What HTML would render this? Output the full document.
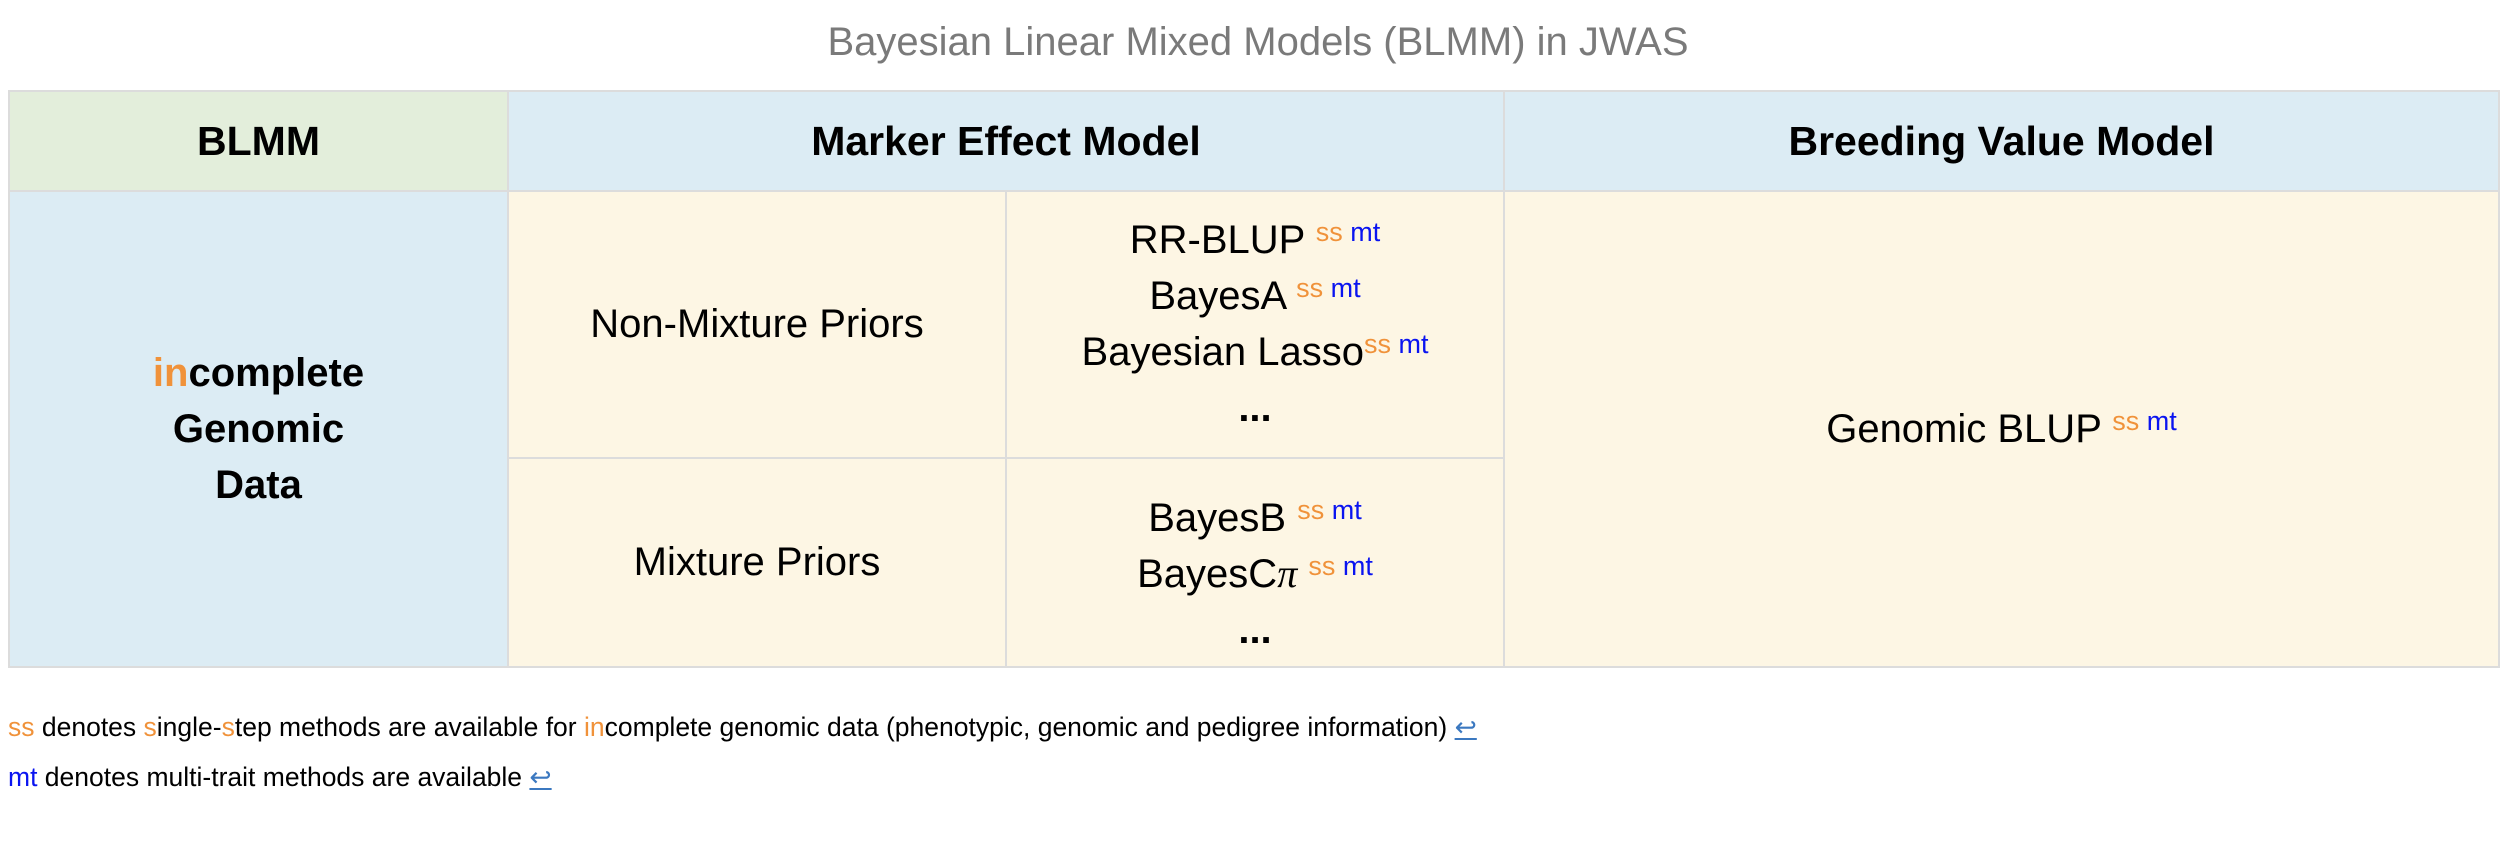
<!DOCTYPE html>
<html><head><meta charset="utf-8"><style>
body{margin:0;width:2516px;height:844px;background:#fff;font-family:"Liberation Sans",Arial,sans-serif;position:relative;overflow:hidden}
.c{position:absolute;box-sizing:border-box;border:2px solid #dcdcdc;display:flex;flex-direction:column;align-items:center;justify-content:center;text-align:center;font-size:40px;color:#000}
.h{font-weight:bold;background:#dcecf4;font-size:41px}
.y{background:#fdf6e4}
.l{line-height:56px}
sup{font-size:27px;vertical-align:12px;line-height:0}
.o{color:#f0923a}.b{color:#0a14f0}
.t{position:absolute;left:0;width:2516px;top:20px;text-align:center;font-size:40px;color:#7a7a7a}
.f{position:absolute;left:8px;font-size:26.5px;color:#000}
.a{color:#3b78c0;text-decoration:underline}
.e{font-weight:bold}
</style></head><body>
<div class="t">Bayesian Linear Mixed Models (BLMM) in JWAS</div>
<div class="c h" style="left:8px;top:90px;width:501px;height:102px;background:#e3eedb">BLMM</div>
<div class="c h" style="left:507px;top:90px;width:998px;height:102px">Marker Effect Model</div>
<div class="c h" style="left:1503px;top:90px;width:997px;height:102px">Breeding Value Model</div>
<div class="c" style="left:8px;top:190px;width:501px;height:478px;background:#dcecf4;font-weight:bold"><div class="l"><span class="o">in</span>complete<br>Genomic<br>Data</div></div>
<div class="c y" style="left:507px;top:190px;width:500px;height:269px">Non-Mixture Priors</div>
<div class="c y" style="left:1005px;top:190px;width:500px;height:269px"><div class="l" style="margin-top:-2px">RR-BLUP <sup><span class="o">ss</span> <span class="b">mt</span></sup><br>BayesA <sup><span class="o">ss</span> <span class="b">mt</span></sup><br>Bayesian Lasso<sup><span class="o">ss</span> <span class="b">mt</span></sup><br><span class="e">...</span></div></div>
<div class="c y" style="left:507px;top:457px;width:500px;height:211px">Mixture Priors</div>
<div class="c y" style="left:1005px;top:457px;width:500px;height:211px"><div class="l" style="margin-top:22px">BayesB <sup><span class="o">ss</span> <span class="b">mt</span></sup><br>BayesC<i style="font-family:'Liberation Serif',serif">π</i> <sup><span class="o">ss</span> <span class="b">mt</span></sup><br><span class="e">...</span></div></div>
<div class="c y" style="left:1503px;top:190px;width:997px;height:478px"><div>Genomic BLUP <sup><span class="o">ss</span> <span class="b">mt</span></sup></div></div>
<div class="f" style="top:712px"><span class="o">ss</span> denotes <span class="o">s</span>ingle-<span class="o">s</span>tep methods are available for <span class="o">in</span>complete genomic data (phenotypic, genomic and pedigree information) <span class="a">↩</span></div>
<div class="f" style="top:762px"><span class="b">mt</span> denotes multi-trait methods are available <span class="a">↩</span></div>
</body></html>
